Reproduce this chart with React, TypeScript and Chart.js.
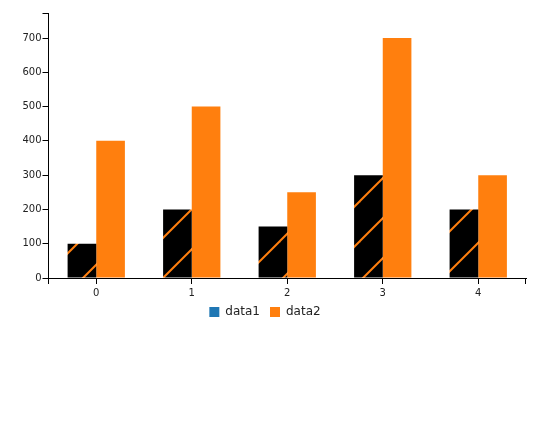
import React, { useEffect, useRef } from "react";
import { Chart, registerables } from "chart.js";

Chart.register(...registerables);

const categories = ["0", "1", "2", "3", "4"];
const data1 = [100, 200, 150, 300, 200];
const data2 = [400, 500, 250, 700, 300];
const yTickStep = 100;
const yMax = 773;

function makeHatch(ctx: CanvasRenderingContext2D): CanvasPattern | string {
  const tile = document.createElement("canvas");
  tile.width = 40;
  tile.height = 40;
  const t = tile.getContext("2d");
  if (!t) return "#000";
  t.fillStyle = "#000000";
  t.fillRect(0, 0, 40, 40);
  t.strokeStyle = "#ff7f0e";
  t.lineWidth = 2;
  const segs = [
    [-5, 6, 6, -5],
    [-5, 46, 46, -5],
    [36, 45, 45, 36],
  ];
  for (const [a, b, c, d] of segs) {
    t.beginPath();
    t.moveTo(a, b);
    t.lineTo(c, d);
    t.stroke();
  }
  return ctx.createPattern(tile, "repeat") || "#000";
}

const endTicks = {
  id: "endTicks",
  afterDraw(chart: any) {
    const { ctx, chartArea } = chart;
    ctx.save();
    ctx.strokeStyle = "#000";
    ctx.lineWidth = 1;
    ctx.beginPath();
    const l = Math.round(chartArea.left - 0.5) + 0.5;
    const r = Math.round(chartArea.right) - 0.5;
    ctx.moveTo(l, chartArea.bottom);
    ctx.lineTo(l, chartArea.bottom + 6);
    ctx.moveTo(r, chartArea.bottom);
    ctx.lineTo(r, chartArea.bottom + 6);
    ctx.stroke();
    ctx.restore();
  },
};

export default function App() {
  const ref = useRef<HTMLCanvasElement>(null);
  useEffect(() => {
    const canvas = ref.current;
    if (!canvas) return;
    const ctx = canvas.getContext("2d")!;
    const hatch = makeHatch(ctx);
    const font = { family: "'DejaVu Sans', sans-serif", size: 10 };
    const chart = new Chart(canvas, {
      type: "bar",
      data: {
        labels: categories,
        datasets: [
          {
            label: "data1",
            data: data1,
            backgroundColor: hatch as any,
            borderWidth: 0,
            categoryPercentage: 0.6,
            barPercentage: 1,
          },
          {
            label: "data2",
            data: data2,
            backgroundColor: "#ff7f0e",
            borderWidth: 0,
            categoryPercentage: 0.6,
            barPercentage: 1,
          },
        ],
      },
      options: {
        responsive: false,
        animation: false,
        layout: { padding: { top: 13, right: 8, left: 4, bottom: 0 } },
        plugins: {
          tooltip: { enabled: false },
          legend: {
            position: "bottom",
            labels: {
              boxWidth: 10,
              boxHeight: 10,
              padding: 10,
              color: "#222",
              font: { family: "'DejaVu Sans', sans-serif", size: 12 },
              generateLabels: (c: any) => {
                const items = Chart.defaults.plugins.legend.labels.generateLabels(c);
                items.forEach((it: any, i: number) => {
                  it.fillStyle = i === 0 ? "#1f77b4" : "#ff7f0e";
                  it.strokeStyle = it.fillStyle;
                  it.lineWidth = 0;
                });
                return items;
              },
            },
          },
        },
        scales: {
          x: {
            type: "category",
            offset: true,
            grid: {
              display: true,
              offset: false,
              drawOnChartArea: false,
              drawTicks: true,
              tickLength: 6,
              color: "#000",
            },
            border: { display: true, color: "#000", width: 1 },
            ticks: { color: "#222", font, padding: 3, maxRotation: 0 },
            afterFit: (s: any) => {
              s.height = 18;
            },
          },
          y: {
            min: 0,
            max: yMax,
            grid: {
              display: true,
              drawOnChartArea: false,
              drawTicks: true,
              tickLength: 6,
              color: "#000",
            },
            border: { display: true, color: "#000", width: 1 },
            ticks: {
              stepSize: yTickStep,
              color: "#222",
              font,
              padding: 1,
              callback: (v: any) => (Number(v) % yTickStep === 0 ? String(v) : ""),
            },
            afterFit: (s: any) => {
              s.width = 44.5;
            },
          },
        },
      },
      plugins: [endTicks],
    });
    return () => chart.destroy();
  }, []);
  return (
    <canvas
      ref={ref}
      width={534}
      height={328}
      style={{ position: "absolute", left: 0, top: 0 }}
    />
  );
}
